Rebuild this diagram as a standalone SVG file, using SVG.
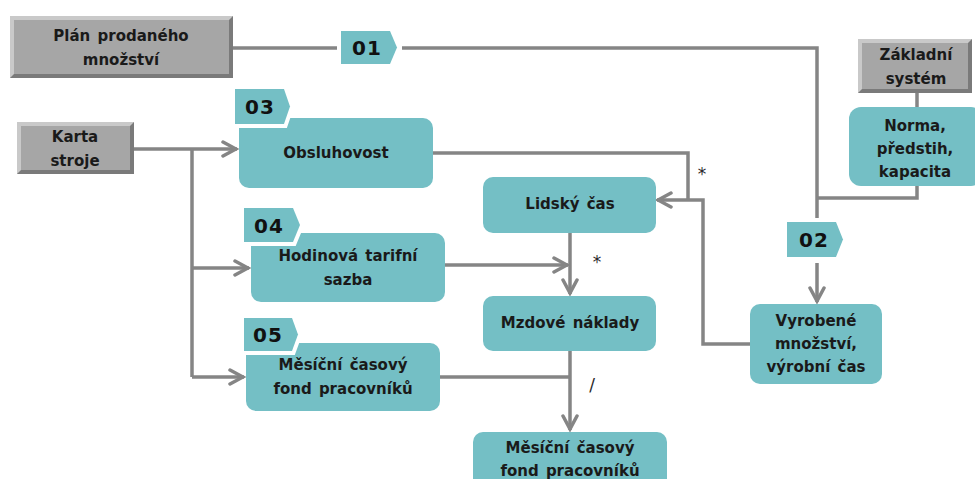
<svg xmlns="http://www.w3.org/2000/svg" width="975" height="479" viewBox="0 0 975 479">
  <defs>
    <style>
      .src-edge { fill: #7a7a7a; }
      .src-light { fill: #c9c9c9; }
      .src-face { fill: #a6a6a6; }
      .node { fill: #74bfc5; }
      .badge { fill: #74bfc5; stroke: #ffffff; stroke-width: 8; stroke-linejoin: miter; paint-order: stroke; }
      .lbl { font-family: "DejaVu Sans", Verdana, sans-serif; font-weight: bold; font-size: 15px; fill: #1a1a1a; text-anchor: middle; dominant-baseline: central; word-spacing: 2px; }
      .num { font-family: "DejaVu Sans", Verdana, sans-serif; font-weight: bold; font-size: 20px; fill: #111111; text-anchor: middle; dominant-baseline: central; letter-spacing: 1px; }
      .op { font-family: "DejaVu Sans", Verdana, sans-serif; font-size: 17px; fill: #2a2a2a; text-anchor: middle; dominant-baseline: central; }
      .wire { fill: none; stroke: #858585; stroke-width: 3.5; stroke-linejoin: miter; }
      .arrow { marker-end: url(#chevron); }
    </style>
    <marker id="chevron" markerUnits="userSpaceOnUse" viewBox="-18 -10 20 20" markerWidth="20" markerHeight="20" refX="0" refY="0" orient="auto">
      <path d="M-14,-7 L-1,0 L-14,7" fill="none" stroke="#858585" stroke-width="3.5" stroke-linecap="round" stroke-linejoin="miter"/>
    </marker>
  </defs>

  <rect width="975" height="479" fill="#ffffff"/>

  <!-- connectors -->
  <g id="connectors">
    <!-- Karta stroje fan-out -->
    <path class="wire arrow" d="M134,149 H237"/>
    <path class="wire" d="M192,149 V377"/>
    <path class="wire arrow" d="M192,268 H249"/>
    <path class="wire arrow" d="M192,377 H244"/>
    <!-- Plán prodaného množství via 01 to 02 -->
    <path class="wire" d="M233,48 H341"/>
    <path class="wire" d="M402,48 H817 V218"/>
    <path class="wire arrow" d="M817,263 V302"/>
    <!-- Základní systém / Norma -->
    <path class="wire" d="M917,93 V107"/>
    <path class="wire" d="M917,186 V198 H817"/>
    <!-- Obsluhovost and Vyrobené množství into Lidský čas -->
    <path class="wire" d="M433,153 H688 V200"/>
    <path class="wire arrow" d="M750,344 H703 V200 H657"/>
    <!-- Lidský čas, Hodinová sazba into Mzdové náklady -->
    <path class="wire arrow" d="M570,233 V294"/>
    <path class="wire arrow" d="M445,265 H568"/>
    <!-- Mzdové náklady, fond into bottom node -->
    <path class="wire arrow" d="M570,351 V430"/>
    <path class="wire" d="M440,377 H570"/>
  </g>

  <!-- operator marks -->
  <g id="operators">
    <text class="op" x="702" y="174">*</text>
    <text class="op" x="597" y="262">*</text>
    <text class="op" x="592" y="385">/</text>
  </g>

  <!-- source boxes -->
  <g id="plan">
    <rect class="src-edge" x="10" y="16" width="223" height="62"/>
    <polygon class="src-light" points="10,16 233,16 229,20 14,20 14,74 10,78"/>
    <rect class="src-face" x="14" y="20" width="215" height="54"/>
    <text class="lbl" x="121" y="36">Plán prodaného</text>
    <text class="lbl" x="121" y="60">množství</text>
  </g>

  <g id="karta">
    <rect class="src-edge" x="17" y="122" width="117" height="52"/>
    <polygon class="src-light" points="17,122 134,122 130,126 21,126 21,170 17,174"/>
    <rect class="src-face" x="21" y="126" width="109" height="44"/>
    <text class="lbl" x="75" y="137">Karta</text>
    <text class="lbl" x="75" y="161">stroje</text>
  </g>

  <g id="zakladni">
    <rect class="src-edge" x="858" y="39" width="114" height="54"/>
    <polygon class="src-light" points="858,39 972,39 968,43 862,43 862,89 858,93"/>
    <rect class="src-face" x="862" y="43" width="106" height="46"/>
    <text class="lbl" x="916" y="55">Základní</text>
    <text class="lbl" x="916" y="79">systém</text>
  </g>

  <!-- process nodes -->
  <g id="obsluhovost">
    <rect class="node" x="239" y="118" width="194" height="70" rx="10"/>
    <path class="badge" d="M235,89 H284 L290,106.5 L284,124 H235 Z"/>
    <text class="num" x="260" y="107">03</text>
    <text class="lbl" x="336" y="153">Obsluhovost</text>
  </g>

  <g id="hodinova">
    <rect class="node" x="251" y="233" width="194" height="69" rx="10"/>
    <path class="badge" d="M244,208 H293 L300,225 L293,242 H244 Z"/>
    <text class="num" x="269" y="226">04</text>
    <text class="lbl" x="348" y="256">Hodinová tarifní</text>
    <text class="lbl" x="348" y="280">sazba</text>
  </g>

  <g id="fond">
    <rect class="node" x="246" y="343" width="194" height="68" rx="10"/>
    <path class="badge" d="M244,318 H292 L298,334.5 L292,351 H244 Z"/>
    <text class="num" x="268" y="335">05</text>
    <text class="lbl" x="343" y="365">Měsíční časový</text>
    <text class="lbl" x="343" y="389">fond pracovníků</text>
  </g>

  <g id="lidsky">
    <rect class="node" x="483" y="177" width="173" height="56" rx="10"/>
    <text class="lbl" x="570" y="204">Lidský čas</text>
  </g>

  <g id="mzdove">
    <rect class="node" x="483" y="296" width="173" height="55" rx="10"/>
    <text class="lbl" x="570" y="323">Mzdové náklady</text>
  </g>

  <g id="fond-vysledek">
    <rect class="node" x="473" y="432" width="194" height="62" rx="10"/>
    <text class="lbl" x="570" y="448">Měsíční časový</text>
    <text class="lbl" x="570" y="471">fond pracovníků</text>
  </g>

  <g id="norma">
    <rect class="node" x="849" y="107" width="134" height="79" rx="12"/>
    <text class="lbl" x="915" y="126">Norma,</text>
    <text class="lbl" x="915" y="149">předstih,</text>
    <text class="lbl" x="915" y="172">kapacita</text>
  </g>

  <g id="vyrobene">
    <rect class="node" x="750" y="304" width="132" height="80" rx="10"/>
    <text class="lbl" x="816" y="321">Vyrobené</text>
    <text class="lbl" x="816" y="344">množství,</text>
    <text class="lbl" x="816" y="367">výrobní čas</text>
  </g>

  <g id="badge-01">
    <path class="badge" d="M341,31 H390 L397,47.5 L390,64 H341 Z"/>
    <text class="num" x="367" y="48">01</text>
  </g>

  <g id="badge-02">
    <path class="badge" d="M787,222 H836 L843,239.5 L836,257 H787 Z"/>
    <text class="num" x="814" y="240">02</text>
  </g>
</svg>
